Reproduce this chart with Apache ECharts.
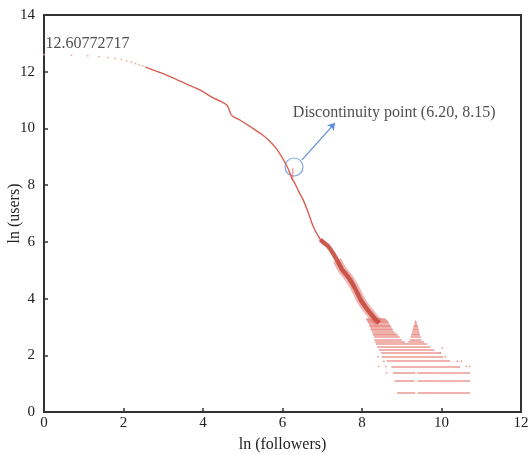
<!DOCTYPE html>
<html><head><meta charset="utf-8">
<script src="https://cdn.jsdelivr.net/npm/echarts@6/dist/echarts.min.js"></script>
<style>html,body{margin:0;padding:0;background:#fff}#c{width:529px;height:455px}</style>
</head><body><div id="c"></div>
<script>
// sparse dots at the top (ln(followers), ln(users))
const dotsX = [0,0.69,1.10,1.39,1.61,1.79,1.95,2.08,2.20,2.30,2.40,2.48,2.56];
const dotsY = [12.61,12.58,12.56,12.53,12.50,12.47,12.43,12.38,12.34,12.29,12.24,12.20,12.16];
// thin main curve
const curveX = [2.56,2.8,3.05,3.3,3.6,3.92,4.2,4.45,4.6,4.65,4.7,4.78,4.95,5.2,5.45,5.68,5.85,6.0,6.1,6.18,6.24,6.3,6.4,6.52,6.65,6.77,6.9,7.0];
const curveY = [12.16,12.03,11.9,11.75,11.55,11.36,11.12,10.95,10.82,10.7,10.5,10.4,10.28,10.05,9.82,9.55,9.28,8.95,8.7,8.45,8.22,8.1,7.8,7.48,7.02,6.55,6.2,5.98];
// short spike at the discontinuity
const spikeX = [6.26,6.26];
const spikeY = [8.60,8.22];
// dense core of the distribution
const coreX = [6.95,7.05,7.15,7.27,7.37,7.5,7.6,7.7,7.81,7.9,7.97,8.08,8.2,8.32,8.43];
const coreY = [6.08,5.96,5.84,5.6,5.36,5.02,4.85,4.66,4.4,4.15,3.95,3.72,3.5,3.3,3.14];
// horizontal bands (discrete user counts)
const rowY   = [0.69,1.10,1.39,1.61,1.79,1.95,2.08,2.20,2.30,2.40,2.48,2.56,2.64,2.71,2.77,2.83,2.89,2.94,3.00,3.04,3.09,3.14,3.18,3.22,3.26,3.30];
const rowX0  = [8.88,8.82,8.78,8.74,8.62,8.50,8.48,8.42,8.38,8.35,8.33,8.31,8.30,8.28,8.27,8.25,8.23,8.21,8.20,8.19,8.18,8.16,8.15,8.13,8.12,8.10];
const rowX1  = [10.72,10.72,10.72,10.47,10.22,10.05,9.98,9.82,9.72,9.64,9.56,9.50,9.48,9.46,9.45,9.44,9.43,9.42,9.41,9.40,9.39,9.38,9.37,9.36,8.62,8.58];
const gapX0  = [9.34,9.32,9.34,null,null,null,null,null,null,null,9.08,9.00,8.95,8.90,8.86,8.82,8.78,8.76,8.74,8.72,8.70,8.68,8.66,8.64,null,null];
const gapX1  = [9.40,9.40,9.39,null,null,null,null,null,null,null,9.16,9.20,9.22,9.24,9.25,9.26,9.27,9.28,9.29,9.30,9.31,9.32,9.33,9.34,null,null];
// isolated points at band ends
const looseX = [8.62,8.42,8.60,10.62,10.70,8.55,10.40,10.50,10.10,10.02,8.40,9.97];
const looseY = [1.39,1.61,1.61,1.61,1.61,1.79,1.79,1.79,1.95,2.26,1.95,2.08];
// annotation
const circlePt = [6.29,8.64];
const arrowFrom = [6.49,8.89], arrowTo = [7.32,10.19];
const label1 = {text:'12.60772717', at:[0.04,13.0]};
const label2 = {text:'Discontinuity point (6.20, 8.15)', at:[6.26,10.55]};
const xTicks = [0,2,4,6,8,10,12], yTicks = [0,2,4,6,8,10,12,14];

const zip = (a,b)=>a.map((v,i)=>[v,b[i]]);
const rowLines = [];
rowY.forEach((y,i)=>{
  if (gapX0[i]!=null){
    rowLines.push({coords:[[rowX0[i],y],[gapX0[i],y]]});
    rowLines.push({coords:[[gapX1[i],y],[rowX1[i],y]]});
  } else rowLines.push({coords:[[rowX0[i],y],[rowX1[i],y]]});
});
const font = 'Liberation Serif';
const chart = echarts.init(document.getElementById('c'));
chart.setOption({
  animation:false,
  grid:{left:44,right:8,top:15,bottom:43,containLabel:false,outerBoundsMode:'none',show:true,borderColor:'#333',borderWidth:2,backgroundColor:'transparent'},
  xAxis:{type:'value',min:0,max:12,interval:2,
    name:'ln (followers)',nameLocation:'middle',nameGap:25,nameMoveOverlap:false,
    nameTextStyle:{fontFamily:font,fontSize:16,color:'#222'},
    axisLine:{show:true,lineStyle:{color:'#333',width:2}},
    axisTick:{show:true,inside:true,length:4,lineStyle:{color:'#333',width:1.5}},
    axisLabel:{fontFamily:font,fontSize:15,color:'#222',margin:4},
    splitLine:{show:false}},
  yAxis:{type:'value',min:0,max:14,interval:2,
    name:'ln (users)',nameLocation:'middle',nameGap:21,nameMoveOverlap:false,
    nameTextStyle:{fontFamily:font,fontSize:16,color:'#222'},
    axisLine:{show:true,lineStyle:{color:'#333',width:2}},
    axisTick:{show:true,inside:true,length:4,lineStyle:{color:'#333',width:1.5}},
    axisLabel:{fontFamily:font,fontSize:15,color:'#222',margin:9},
    splitLine:{show:false}},
  series:[
    {type:'scatter',data:zip(dotsX,dotsY),symbolSize:2,itemStyle:{color:'#eba59c'},silent:true},
    {type:'line',data:zip(curveX,curveY),showSymbol:false,smooth:0.2,lineStyle:{color:'#d95f55',width:1.4}},
    {type:'line',data:zip(spikeX,spikeY),showSymbol:false,lineStyle:{color:'#e07a70',width:1}},
    {type:'lines',coordinateSystem:'cartesian2d',data:rowLines,lineStyle:{color:'#e8867c',width:1.5,opacity:0.85},silent:true},
    {type:'scatter',data:zip(looseX,looseY),symbolSize:1.8,itemStyle:{color:'#e8867c'},silent:true},
    {type:'line',data:zip(coreX,coreY).slice(4),showSymbol:false,smooth:0.2,lineStyle:{color:'#de7d72',width:9,opacity:0.55}},
    {type:'line',data:zip(coreX,coreY),showSymbol:false,smooth:0.2,lineStyle:{color:'#c84a3f',width:4.5,opacity:0.9}}],
});
chart.setOption({series:[
    {type:'scatter',data:zip(dotsX,dotsY),symbolSize:2,itemStyle:{color:'#eba59c'},silent:true},
    {type:'line',data:zip(curveX,curveY),showSymbol:false,smooth:0.2,lineStyle:{color:'#d95f55',width:1.4}},
    {type:'line',data:zip(spikeX,spikeY),showSymbol:false,lineStyle:{color:'#e07a70',width:1}},
    {type:'lines',coordinateSystem:'cartesian2d',data:rowLines,lineStyle:{color:'#e8867c',width:1.5,opacity:0.85},silent:true},
    {type:'scatter',data:zip(looseX,looseY),symbolSize:1.8,itemStyle:{color:'#e8867c'},silent:true},
    {type:'line',data:zip(coreX,coreY).slice(4),showSymbol:false,smooth:0.2,lineStyle:{color:'#de7d72',width:9,opacity:0.55}},
    {type:'line',data:zip(coreX,coreY),showSymbol:false,smooth:0.2,lineStyle:{color:'#c84a3f',width:4.5,opacity:0.9}},
    {type:'scatter',data:[circlePt],symbol:'circle',symbolSize:18,itemStyle:{color:'rgba(0,0,0,0)',borderColor:'#5b8fd6',borderWidth:1.2}},
    {type:'lines',coordinateSystem:'cartesian2d',data:[{coords:[arrowFrom,arrowTo]}],symbol:['none','arrow'],symbolSize:7,lineStyle:{color:'#5b8fd6',width:1.2,opacity:1}},
    {type:'scatter',symbolSize:0,data:[{value:label1.at,name:label1.text},{value:label2.at,name:label2.text}],
      label:{show:true,position:[0,0],align:'left',verticalAlign:'middle',formatter:p=>p.name,fontFamily:font,fontSize:16,color:'#222'}}
]});
</script></body></html>
